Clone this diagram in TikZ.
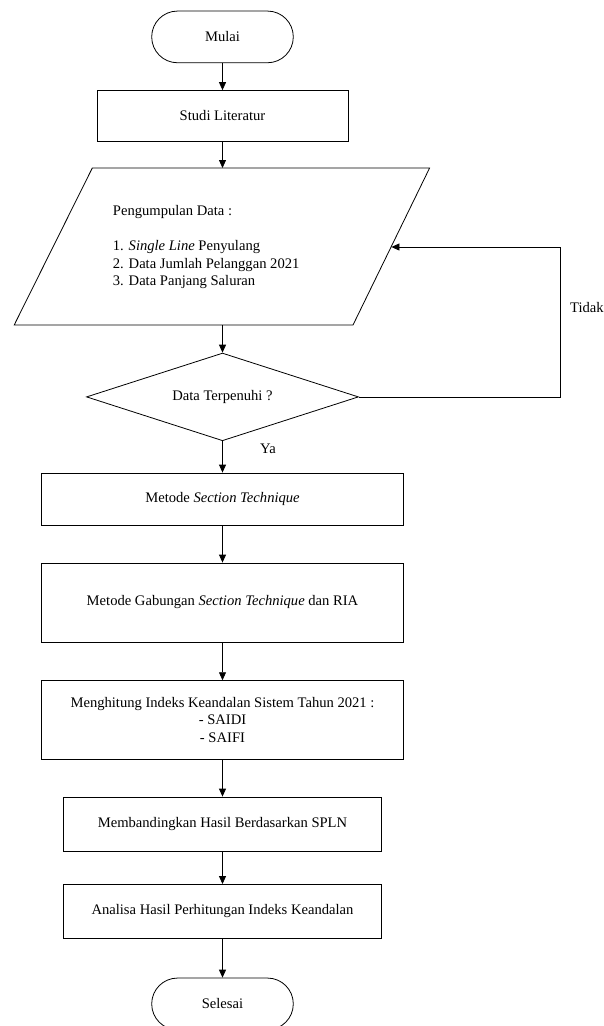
\documentclass[tikz,border=0pt]{standalone}
\usepackage{fontspec}
\setmainfont{Liberation Serif}
\usetikzlibrary{arrows.meta,shapes.geometric}
\tikzset{
  base/.style={draw=black, line width=0.8pt, inner sep=0pt, align=center,
    font=\fontsize{14.6}{17.6}\selectfont},
  pill/.style={base, rectangle, rounded corners=25.8pt, minimum width=141.6pt, minimum height=51.7pt},
  procbox/.style={base, rectangle},
  decbox/.style={base, diamond, aspect=3.1, minimum width=272pt, minimum height=87.7pt},
  lbl/.style={inner sep=0pt, font=\fontsize{14.6}{17.6}\selectfont},
  arr/.style={draw=black, line width=0.8pt, -{Triangle[length=8pt,width=7pt]}}
}
\begin{document}
\begin{tikzpicture}[x=1pt,y=-1pt]
\useasboundingbox (0,0) rectangle (603,1026);
% nodes
\node[pill] (mulai) at (222.5,36.9) {Mulai};
\node[procbox, minimum width=251pt, minimum height=50.5pt] (studi) at (222.5,115.8) {Studi Literatur};
% parallelogram (input)
\coordinate (pTL) at (92.3,168);
\coordinate (pTR) at (429.6,168);
\coordinate (pBR) at (353,325);
\coordinate (pBL) at (14.2,325);
\coordinate (dataTop) at (222.5,168);
\coordinate (dataBot) at (222.5,325);
\coordinate (dataR) at (391.4,247);
\draw[line width=0.8pt] (pTL) -- (pTR) -- (pBR) -- (pBL) -- cycle;
\node[lbl, anchor=west, align=left] (data) at (112.7,247)
  {Pengumpulan Data :\\[17.6pt]
   1. \textit{Single Line} Penyulang\\
   2. Data Jumlah Pelanggan 2021\\
   3. Data Panjang Saluran};
\node[decbox] (dec) at (222.5,396.9) {Data Terpenuhi ?};
\node[procbox, minimum width=362pt, minimum height=52pt] (st) at (222.5,499) {Metode \textit{Section Technique}};
\node[procbox, minimum width=362pt, minimum height=79pt] (gab) at (222.5,602.5) {Metode Gabungan \textit{Section Technique} dan RIA};
\node[procbox, minimum width=362pt, minimum height=78.3pt] (hit) at (222.5,719.8)
  {Menghitung Indeks Keandalan Sistem Tahun 2021 :\\- SAIDI\\- SAIFI};
\node[procbox, minimum width=318pt, minimum height=54pt] (band) at (222.5,824) {Membandingkan Hasil Berdasarkan SPLN};
\node[procbox, minimum width=318pt, minimum height=53.5pt] (anal) at (222.5,911.2) {Analisa Hasil Perhitungan Indeks Keandalan};
\node[pill] (selesai) at (222.5,1003.9) {Selesai};
% labels
\node[lbl, anchor=west] (tidak) at (570,308) {Tidak};
\node[lbl] (ya) at (268,449) {Ya};
% connectors
\coordinate (loopTR) at (560,247);
\draw[arr] (mulai) -- (studi);
\draw[arr] (studi) -- (dataTop);
\draw[arr] (dataBot) -- (dec.north);
\draw[arr] (dec.east) -| (loopTR) -- (dataR);
\draw[arr] (dec.south) -- (st);
\draw[arr] (st) -- (gab);
\draw[arr] (gab) -- (hit);
\draw[arr] (hit) -- (band);
\draw[arr] (band) -- (anal);
\draw[arr] (anal) -- (selesai);
\end{tikzpicture}
\end{document}
